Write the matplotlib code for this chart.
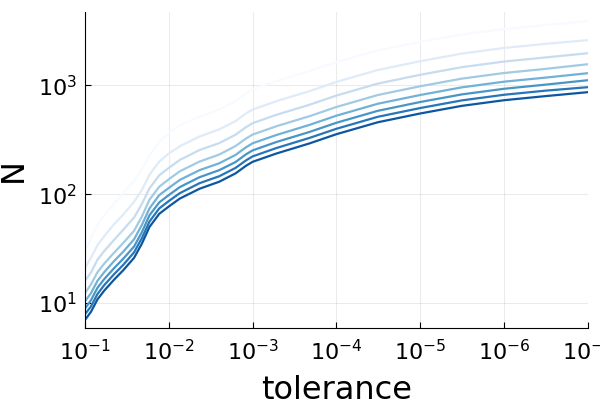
import numpy as np
import matplotlib
matplotlib.use("Agg")
import matplotlib.pyplot as plt

# tolerance values (x) and N for each of the 8 curves (lightest -> darkest)
tol = [1e-1, 0.085, 0.071, 0.059, 0.045, 0.035, 0.026, 0.021, 0.017, 0.013,
       1e-2, 0.0074, 0.0043, 0.0025, 0.0016, 0.0012, 1e-3, 5.2e-4, 2.1e-4, 1e-4,
       3.2e-5, 1e-5, 3.2e-6, 1e-6, 3.2e-7, 1e-7]

n1 = [30, 39, 52, 64, 82, 102, 132, 168, 228, 302, 365, 430, 515, 598, 713, 837,
      916, 1091, 1350, 1630, 2080, 2500, 2920, 3280, 3570, 3870]
n2 = [21, 26, 34, 41, 53, 65, 85, 109, 151, 199, 236, 275, 338, 393, 468, 550,
      598, 713, 882, 1072, 1380, 1661, 1951, 2199, 2398, 2590]
n3 = [16, 19, 25, 30, 38, 47, 61, 81, 113, 149, 174, 206, 254, 294, 351, 412,
      448, 535, 661, 804, 1035, 1246, 1463, 1649, 1798, 1966]
n4 = [12.4, 14.8, 19.2, 23, 29, 35.6, 46, 62, 89, 117, 137, 162, 199, 231, 276, 324,
      352, 420, 519, 631, 813, 978, 1149, 1294, 1412, 1558]
n5 = [10.4, 12.3, 16, 19.2, 24.3, 29.6, 38.5, 52, 74, 98, 114, 135, 166, 192, 229, 269,
      293, 349, 432, 525, 676, 813, 955, 1077, 1174, 1289]
n6 = [8.9, 10.6, 13.8, 16.6, 20.9, 25.5, 33, 44.6, 64, 84, 98, 116, 143, 166, 197, 232,
      252, 301, 372, 452, 582, 701, 823, 927, 1012, 1111]
n7 = [7.9, 9.3, 12.1, 14.6, 18.4, 22.4, 29.2, 39.3, 56, 74, 86.4, 102, 126, 146, 174, 204,
      222, 265, 328, 398, 513, 617, 725, 817, 891, 959]
n8 = [7, 8.3, 10.8, 13, 16.4, 20, 26, 35, 50, 66, 77, 91, 112, 130, 155, 182,
      198, 236, 292, 355, 457, 550, 646, 728, 794, 863]

series = [n1, n2, n3, n4, n5, n6, n7, n8]
colors = plt.cm.Blues(np.linspace(0.0, 0.85, len(series)))

fig = plt.figure(figsize=(6, 4), dpi=100)
ax = fig.add_axes([0.1417, 0.18, 0.838, 0.79])

for n, c in zip(series, colors):
    ax.plot(tol, n, color=c, lw=1.6)

ax.set_xscale("log")
ax.set_yscale("log")
ax.set_xlim(1e-1, 1e-7)
ax.set_ylim(5.9, 4700)
ax.set_xticks([10.0**-k for k in range(1, 8)])
ax.set_yticks([10, 100, 1000])
ax.minorticks_off()

ax.grid(True, color="black", alpha=0.08, lw=0.8)
for s in ["top", "right"]:
    ax.spines[s].set_visible(False)
ax.tick_params(direction="in", length=4, labelsize=16)
ax.tick_params(axis="x", pad=8)
ax.tick_params(axis="y", pad=6)

ax.set_xlabel("tolerance", fontsize=23, labelpad=8)
ax.set_ylabel("N", fontsize=23, labelpad=6)

fig.savefig("out.png", dpi=100)
